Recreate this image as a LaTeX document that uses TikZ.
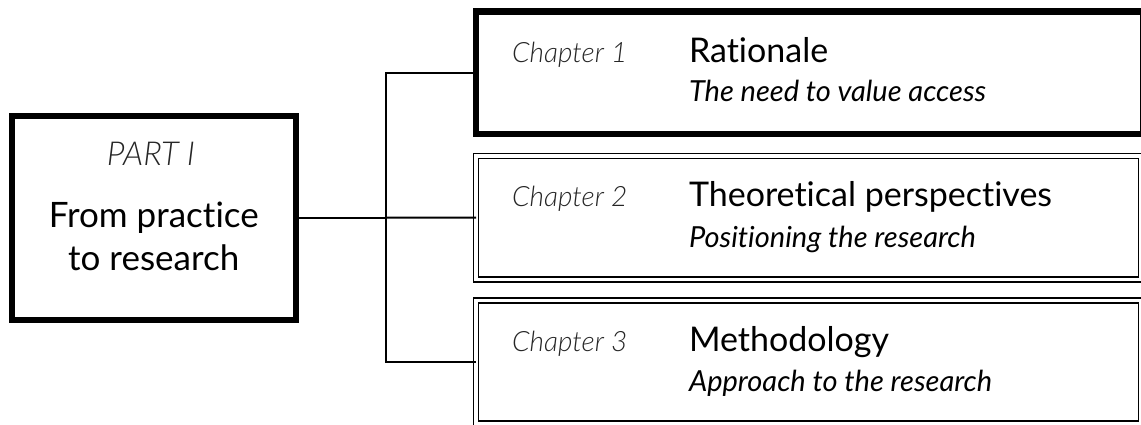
\documentclass[tikz,border=0pt]{standalone}
\usepackage{fontspec}
\setmainfont{Lato}[Ligatures=NoCommon]
\IfFontExistsTF{Lato Light Italic}{\newfontfamily\lightit{Lato Light Italic}[Ligatures=NoCommon]}{\newfontfamily\lightit{Lato Italic}[Ligatures=NoCommon]}
\tikzset{
  partbox/.style={draw=black, line width=6, rectangle, outer sep=0pt, inner sep=0pt},
  thickbox/.style={draw=black, line width=6.5, rectangle, outer sep=0pt, inner sep=0pt},
  dblbox/.style={draw=black, line width=1.7, double=white, double distance=3.3, rectangle, outer sep=0pt, inner sep=0pt},
  conn/.style={draw=black, line width=2},
  lbl/.style={inner sep=0pt, outer sep=0pt, anchor=base west},
  chaplbl/.style={lbl, text=black!85, font=\lightit\fontsize{28}{32}\selectfont},
  title/.style={lbl, font=\fontsize{34}{38}\selectfont},
  subt/.style={lbl, font=\itshape\fontsize{29}{32}\selectfont},
  parttxt/.style={inner sep=0pt, anchor=base, font=\fontsize{35}{40}\selectfont},
}
\begin{document}
\begin{tikzpicture}[x=1pt, y=-1pt]
\useasboundingbox (0,0) rectangle (1141,425);
\clip (0,0) rectangle (1141,425);
% part box
\node[partbox, minimum width=283.5, minimum height=203.5] (part) at (153.75,217.75) {};
\node[inner sep=0pt, anchor=base, text=black!85, font=\lightit\fontsize{33}{36}\selectfont] (partno) at (151,166) {PART I};
\node[parttxt] (pt1) at (153.75,227) {From practice};
\node[parttxt] (pt2) at (153.75,270) {to research};
% chapter boxes
\node[thickbox, minimum width=667, minimum height=122.5] (ch1) at (809.5,72.75) {};
\node[dblbox, minimum width=665, minimum height=123.3] (ch2) at (808.5,217.65) {};
\node[dblbox, minimum width=665, minimum height=123.3] (ch3) at (808.5,361.85) {};
% connectors
\coordinate (j) at (part.east -| 386,0);
\draw[conn] (part.east) -- (j);
\draw[conn] (ch1.west) -| (j) |- (ch3.west);
\draw[conn] (j) -- (ch2.west);
% chapter texts
\node[chaplbl] (c1) at (512,63) {Chapter 1};
\node[title] (t1) at (689,63) {Rationale};
\node[subt] (s1) at (689,102) {The need to value access};
\node[chaplbl] (c2) at (512,206.5) {Chapter 2};
\node[title] (t2) at (689,207) {Theoretical perspectives};
\node[subt] (s2) at (689,247) {Positioning the research};
\node[chaplbl] (c3) at (512,351) {Chapter 3};
\node[title] (t3) at (689,351.7) {Methodology};
\node[subt] (s3) at (689,391.7) {Approach to the research};
\end{tikzpicture}
\end{document}
